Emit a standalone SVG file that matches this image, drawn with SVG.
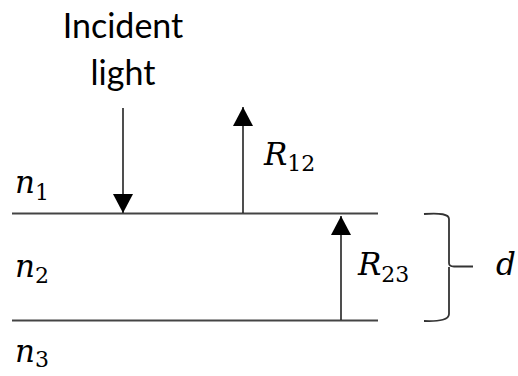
<svg xmlns="http://www.w3.org/2000/svg" width="518" height="376" viewBox="0 0 518 376">
<style>
.lbl{font-family:"Lato","Open Sans","Liberation Sans",sans-serif;font-size:34px;fill:#000;text-anchor:middle}
.m{font-family:"DejaVu Serif","Liberation Serif",serif;font-style:italic;font-size:31px;fill:#000}
.s{font-family:"DejaVu Serif","Liberation Serif",serif;font-style:normal;font-size:22px;fill:#000}
.iface{stroke:#444;stroke-width:2.2;fill:none}
.arr{stroke:#222;stroke-width:1.6;fill:none;marker-end:url(#ah)}
</style>
<defs>
<marker id="ah" markerUnits="userSpaceOnUse" markerWidth="22" markerHeight="20" refX="19" refY="10" orient="auto">
<path d="M0,0 L19,10 L0,20 Z" fill="#000"/>
</marker>
</defs>
<g id="interfaces">
<line class="iface" x1="12" y1="213.5" x2="378" y2="213.5"/>
<line class="iface" x1="12" y1="320.5" x2="378" y2="320.5"/>
</g>
<g id="connectors">
<line id="incident" class="arr" x1="123" y1="108" x2="123" y2="213"/>
<line id="r12" class="arr" x1="243" y1="213" x2="243" y2="107"/>
<line id="r23" class="arr" x1="341" y1="320" x2="341" y2="216"/>
<path id="brace" d="M424,214 Q449,212 449,219 L449,263 Q449,266.5 454,266.5 L473,266.5 M449,267 L449,314 Q449,322 424,321" stroke="#333" stroke-width="1.8" fill="none"/>
</g>
<g id="incident-label">
<text class="lbl" x="123" y="38">Incident</text>
<text class="lbl" x="123" y="85">light</text>
</g>
<g id="n1"><text class="m" x="15" y="193">n<tspan class="s" dy="7">1</tspan></text></g>
<g id="n2"><text class="m" x="15" y="277">n<tspan class="s" dy="6">2</tspan></text></g>
<g id="n3"><text class="m" x="15" y="362">n<tspan class="s" dy="5">3</tspan></text></g>
<g id="R12"><text class="m" x="264" y="165">R<tspan class="s" dy="6">12</tspan></text></g>
<g id="R23"><text class="m" x="358" y="275">R<tspan class="s" dy="7">23</tspan></text></g>
<g id="d"><text class="m" x="496" y="275">d</text></g>
</svg>
